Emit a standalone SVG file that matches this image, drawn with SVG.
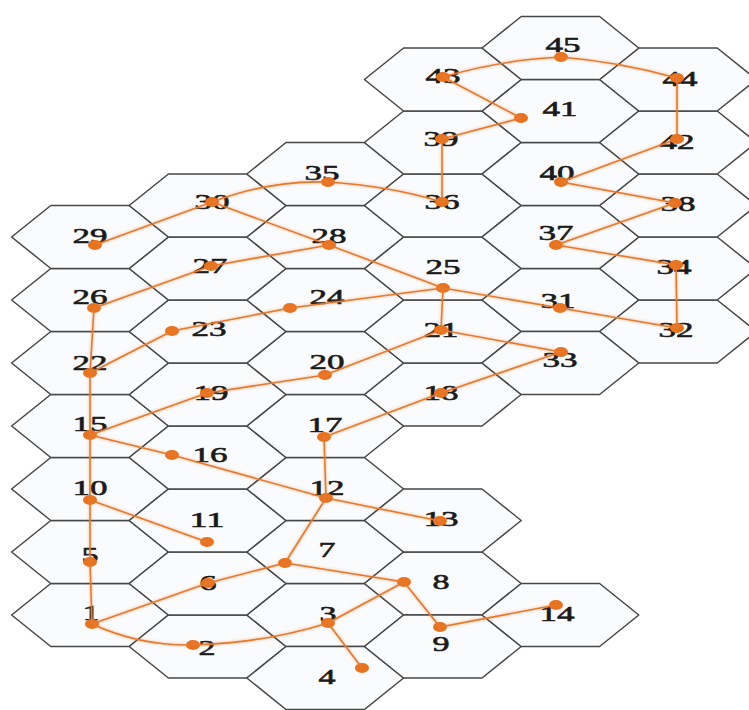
<svg xmlns="http://www.w3.org/2000/svg" xmlns:xlink="http://www.w3.org/1999/xlink" width="749" height="710" viewBox="0 0 749 710">
<style>
.hx{fill:#fafbfc;stroke:#474747;stroke-width:1.5;stroke-linejoin:round}
.lb{font-family:"Liberation Serif","Times New Roman",serif;font-size:22px;fill:#1a1a1a;stroke:#1a1a1a;stroke-width:0.6;text-anchor:middle}
.dt{fill:#e8731f}
.e{fill:none;stroke:#e8782c;stroke-width:1.6;stroke-linecap:round}
</style>
<defs>
<polygon id="hex" class="hx" points="-78.4,0 -39.2,-31.5 39.2,-31.5 78.4,0 39.2,31.5 -39.2,31.5"/>
<filter id="glow" x="-5%" y="-5%" width="110%" height="110%">
<feGaussianBlur in="SourceGraphic" stdDeviation="1.8" result="b"/>
<feComponentTransfer in="b" result="c"><feFuncA type="linear" slope="0.6"/></feComponentTransfer>
<feMerge><feMergeNode in="c"/><feMergeNode in="SourceGraphic"/></feMerge>
</filter>
</defs>
<rect width="749" height="710" fill="#ffffff"/>
<g id="nodes">
<g id="n1"><use href="#hex" x="90" y="615"/><text class="lb" x="91" y="620" textLength="17" lengthAdjust="spacingAndGlyphs">1</text><ellipse class="dt" cx="92" cy="624" rx="7" ry="5"/></g>
<g id="n2"><use href="#hex" x="207.6" y="646.5"/><text class="lb" x="207" y="655" textLength="17" lengthAdjust="spacingAndGlyphs">2</text><ellipse class="dt" cx="193" cy="645" rx="7" ry="5"/></g>
<g id="n3"><use href="#hex" x="325.2" y="615"/><text class="lb" x="328" y="621" textLength="17" lengthAdjust="spacingAndGlyphs">3</text><ellipse class="dt" cx="328" cy="623" rx="7" ry="5"/></g>
<g id="n4"><use href="#hex" x="325.2" y="678"/><text class="lb" x="327" y="684" textLength="17" lengthAdjust="spacingAndGlyphs">4</text><ellipse class="dt" cx="362" cy="668" rx="7" ry="5"/></g>
<g id="n5"><use href="#hex" x="90" y="552"/><text class="lb" x="90" y="562" textLength="17" lengthAdjust="spacingAndGlyphs">5</text><ellipse class="dt" cx="90" cy="562" rx="7" ry="5"/></g>
<g id="n6"><use href="#hex" x="207.6" y="583.5"/><text class="lb" x="208" y="590" textLength="17" lengthAdjust="spacingAndGlyphs">6</text><ellipse class="dt" cx="208" cy="583" rx="7" ry="5"/></g>
<g id="n7"><use href="#hex" x="325.2" y="552"/><text class="lb" x="327" y="557" textLength="17" lengthAdjust="spacingAndGlyphs">7</text><ellipse class="dt" cx="285" cy="563" rx="7" ry="5"/></g>
<g id="n8"><use href="#hex" x="442.8" y="583.5"/><text class="lb" x="441" y="589" textLength="17" lengthAdjust="spacingAndGlyphs">8</text><ellipse class="dt" cx="404" cy="582" rx="7" ry="5"/></g>
<g id="n9"><use href="#hex" x="442.8" y="646.5"/><text class="lb" x="441" y="651" textLength="17" lengthAdjust="spacingAndGlyphs">9</text><ellipse class="dt" cx="440" cy="627" rx="7" ry="5"/></g>
<g id="n10"><use href="#hex" x="90" y="489"/><text class="lb" x="90" y="495" textLength="35" lengthAdjust="spacingAndGlyphs">10</text><ellipse class="dt" cx="90" cy="500" rx="7" ry="5"/></g>
<g id="n11"><use href="#hex" x="207.6" y="520.5"/><text class="lb" x="207" y="527" textLength="35" lengthAdjust="spacingAndGlyphs">11</text><ellipse class="dt" cx="207" cy="542" rx="7" ry="5"/></g>
<g id="n12"><use href="#hex" x="325.2" y="489"/><text class="lb" x="327" y="495" textLength="35" lengthAdjust="spacingAndGlyphs">12</text><ellipse class="dt" cx="326" cy="498" rx="7" ry="5"/></g>
<g id="n13"><use href="#hex" x="442.8" y="520.5"/><text class="lb" x="441" y="526" textLength="35" lengthAdjust="spacingAndGlyphs">13</text><ellipse class="dt" cx="440" cy="521" rx="7" ry="5"/></g>
<g id="n14"><use href="#hex" x="560.4" y="615"/><text class="lb" x="557" y="621" textLength="35" lengthAdjust="spacingAndGlyphs">14</text><ellipse class="dt" cx="556" cy="605" rx="7" ry="5"/></g>
<g id="n15"><use href="#hex" x="90" y="426"/><text class="lb" x="90" y="431" textLength="35" lengthAdjust="spacingAndGlyphs">15</text><ellipse class="dt" cx="90" cy="435" rx="7" ry="5"/></g>
<g id="n16"><use href="#hex" x="207.6" y="457.5"/><text class="lb" x="210" y="462" textLength="35" lengthAdjust="spacingAndGlyphs">16</text><ellipse class="dt" cx="172" cy="455" rx="7" ry="5"/></g>
<g id="n17"><use href="#hex" x="325.2" y="426"/><text class="lb" x="325" y="432" textLength="35" lengthAdjust="spacingAndGlyphs">17</text><ellipse class="dt" cx="324" cy="437" rx="7" ry="5"/></g>
<g id="n18"><use href="#hex" x="442.8" y="394.5"/><text class="lb" x="441" y="400" textLength="35" lengthAdjust="spacingAndGlyphs">18</text><ellipse class="dt" cx="441" cy="393" rx="7" ry="5"/></g>
<g id="n19"><use href="#hex" x="207.6" y="394.5"/><text class="lb" x="211" y="400" textLength="35" lengthAdjust="spacingAndGlyphs">19</text><ellipse class="dt" cx="207" cy="393" rx="7" ry="5"/></g>
<g id="n20"><use href="#hex" x="325.2" y="363"/><text class="lb" x="327" y="369" textLength="35" lengthAdjust="spacingAndGlyphs">20</text><ellipse class="dt" cx="325" cy="375" rx="7" ry="5"/></g>
<g id="n21"><use href="#hex" x="442.8" y="331.5"/><text class="lb" x="441" y="337" textLength="35" lengthAdjust="spacingAndGlyphs">21</text><ellipse class="dt" cx="441" cy="330" rx="7" ry="5"/></g>
<g id="n22"><use href="#hex" x="90" y="363"/><text class="lb" x="90" y="370" textLength="35" lengthAdjust="spacingAndGlyphs">22</text><ellipse class="dt" cx="90" cy="373" rx="7" ry="5"/></g>
<g id="n23"><use href="#hex" x="207.6" y="331.5"/><text class="lb" x="209" y="336" textLength="35" lengthAdjust="spacingAndGlyphs">23</text><ellipse class="dt" cx="172" cy="331" rx="7" ry="5"/></g>
<g id="n24"><use href="#hex" x="325.2" y="300"/><text class="lb" x="327" y="304" textLength="35" lengthAdjust="spacingAndGlyphs">24</text><ellipse class="dt" cx="290" cy="308" rx="7" ry="5"/></g>
<g id="n25"><use href="#hex" x="442.8" y="268.5"/><text class="lb" x="443" y="274" textLength="35" lengthAdjust="spacingAndGlyphs">25</text><ellipse class="dt" cx="443" cy="288" rx="7" ry="5"/></g>
<g id="n26"><use href="#hex" x="90" y="300"/><text class="lb" x="90" y="304" textLength="35" lengthAdjust="spacingAndGlyphs">26</text><ellipse class="dt" cx="94" cy="308" rx="7" ry="5"/></g>
<g id="n27"><use href="#hex" x="207.6" y="268.5"/><text class="lb" x="210" y="273" textLength="35" lengthAdjust="spacingAndGlyphs">27</text><ellipse class="dt" cx="211" cy="266" rx="7" ry="5"/></g>
<g id="n28"><use href="#hex" x="325.2" y="237"/><text class="lb" x="329" y="243" textLength="35" lengthAdjust="spacingAndGlyphs">28</text><ellipse class="dt" cx="329" cy="245" rx="7" ry="5"/></g>
<g id="n29"><use href="#hex" x="90" y="237"/><text class="lb" x="90" y="243" textLength="35" lengthAdjust="spacingAndGlyphs">29</text><ellipse class="dt" cx="95" cy="245" rx="7" ry="5"/></g>
<g id="n30"><use href="#hex" x="207.6" y="205.5"/><text class="lb" x="212" y="209" textLength="35" lengthAdjust="spacingAndGlyphs">30</text><ellipse class="dt" cx="212" cy="202" rx="7" ry="5"/></g>
<g id="n31"><use href="#hex" x="560.4" y="300"/><text class="lb" x="558" y="308" textLength="35" lengthAdjust="spacingAndGlyphs">31</text><ellipse class="dt" cx="560" cy="308" rx="7" ry="5"/></g>
<g id="n32"><use href="#hex" x="678" y="331.5"/><text class="lb" x="676" y="337" textLength="35" lengthAdjust="spacingAndGlyphs">32</text><ellipse class="dt" cx="677" cy="328" rx="7" ry="5"/></g>
<g id="n33"><use href="#hex" x="560.4" y="363"/><text class="lb" x="560" y="367" textLength="35" lengthAdjust="spacingAndGlyphs">33</text><ellipse class="dt" cx="561" cy="352" rx="7" ry="5"/></g>
<g id="n34"><use href="#hex" x="678" y="268.5"/><text class="lb" x="674" y="274" textLength="35" lengthAdjust="spacingAndGlyphs">34</text><ellipse class="dt" cx="676" cy="265" rx="7" ry="5"/></g>
<g id="n35"><use href="#hex" x="325.2" y="174"/><text class="lb" x="322" y="180" textLength="35" lengthAdjust="spacingAndGlyphs">35</text><ellipse class="dt" cx="328" cy="182" rx="7" ry="5"/></g>
<g id="n36"><use href="#hex" x="442.8" y="205.5"/><text class="lb" x="442" y="209" textLength="35" lengthAdjust="spacingAndGlyphs">36</text><ellipse class="dt" cx="442" cy="202" rx="7" ry="5"/></g>
<g id="n37"><use href="#hex" x="560.4" y="237"/><text class="lb" x="556" y="240" textLength="35" lengthAdjust="spacingAndGlyphs">37</text><ellipse class="dt" cx="556" cy="245" rx="7" ry="5"/></g>
<g id="n38"><use href="#hex" x="678" y="205.5"/><text class="lb" x="678" y="211" textLength="35" lengthAdjust="spacingAndGlyphs">38</text><ellipse class="dt" cx="675" cy="203" rx="7" ry="5"/></g>
<g id="n39"><use href="#hex" x="442.8" y="142.5"/><text class="lb" x="441" y="146" textLength="35" lengthAdjust="spacingAndGlyphs">39</text><ellipse class="dt" cx="442" cy="139" rx="7" ry="5"/></g>
<g id="n40"><use href="#hex" x="560.4" y="174"/><text class="lb" x="557" y="180" textLength="35" lengthAdjust="spacingAndGlyphs">40</text><ellipse class="dt" cx="561" cy="182" rx="7" ry="5"/></g>
<g id="n41"><use href="#hex" x="560.4" y="111"/><text class="lb" x="560" y="116" textLength="35" lengthAdjust="spacingAndGlyphs">41</text><ellipse class="dt" cx="521" cy="118" rx="7" ry="5"/></g>
<g id="n42"><use href="#hex" x="678" y="142.5"/><text class="lb" x="677" y="149" textLength="35" lengthAdjust="spacingAndGlyphs">42</text><ellipse class="dt" cx="677" cy="139" rx="7" ry="5"/></g>
<g id="n43"><use href="#hex" x="442.8" y="79.5"/><text class="lb" x="443" y="83" textLength="35" lengthAdjust="spacingAndGlyphs">43</text><ellipse class="dt" cx="443" cy="77" rx="7" ry="5"/></g>
<g id="n44"><use href="#hex" x="678" y="79.5"/><text class="lb" x="680" y="86" textLength="35" lengthAdjust="spacingAndGlyphs">44</text><ellipse class="dt" cx="677" cy="78" rx="7" ry="5"/></g>
<g id="n45"><use href="#hex" x="560.4" y="48"/><text class="lb" x="563" y="52" textLength="35" lengthAdjust="spacingAndGlyphs">45</text><ellipse class="dt" cx="561" cy="57" rx="7" ry="5"/></g>
</g>
<g id="connectors" filter="url(#glow)">
<path class="e" d="M92,624 L90,562 L90,500 L90,435 L90,373 L94,308"/>
<path class="e" d="M92,624 L208,583 L285,563 L326,498 L324,437 L441,393 L561,352"/>
<path class="e" d="M92,624 Q140,646 193,645 Q265,643 328,623"/>
<path class="e" d="M328,623 L362,668"/>
<path class="e" d="M328,623 L404,582"/>
<path class="e" d="M285,563 L404,582 L440,627 L556,605"/>
<path class="e" d="M90,500 L207,542"/>
<path class="e" d="M90,435 L172,455 L326,498 L440,521"/>
<path class="e" d="M90,435 L207,393 L325,375 L441,330 L561,352"/>
<path class="e" d="M441,330 L443,288"/>
<path class="e" d="M90,373 L172,331 L290,308 L443,288"/>
<path class="e" d="M94,308 L211,266 L329,245 L443,288 L560,308 L677,328"/>
<path class="e" d="M95,245 L212,202 L329,245"/>
<path class="e" d="M212,202 Q270,180 328,182 Q390,186 442,202"/>
<path class="e" d="M442,202 L442,139 L521,118 L443,77"/>
<path class="e" d="M443,77 Q500,60 561,57 Q620,62 677,78"/>
<path class="e" d="M677,78 L677,139 L561,182 L675,203 L556,245 L676,265 L677,328"/>
</g>
</svg>
